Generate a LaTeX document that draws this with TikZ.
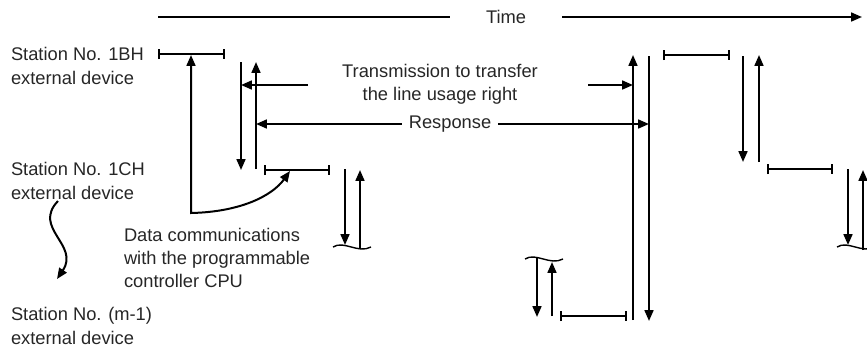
\documentclass[tikz,border=0pt]{standalone}
\usepackage{fontspec}
\setmainfont{Liberation Sans}
\usetikzlibrary{arrows.meta, positioning}

\begin{document}
\begin{tikzpicture}[
    x=0.5pt, y=-0.5pt,
    > = {Triangle[length=5.4pt, width=4.4pt]},
    line width=1pt,
    every node/.style={font=\fontsize{9.15}{11.6}\selectfont, text=black!85, inner sep=0pt},
    lbl/.style={align=left, anchor=west},
    busy/.style={arrows={Bar[width=5pt]-Bar[width=5pt]}},
    wave/.pic={\draw[line width=0.7pt] (-19,0) .. controls (-8,-7) and (6,7) .. (19,0);}
]
\useasboundingbox (0,0) rectangle (867,349);

% --- Time axis ---
\node[inner xsep=17.5pt] (time) at (506,17) {Time};
\coordinate (t0) at (158,17);
\coordinate (t1) at (862,17);
\draw[->] (t0) -- (time) -- (t1);

% --- Stations ---
\node[lbl] (st1) at (10,66) {Station No. 1BH\\external device};
\node[lbl] (st2) at (10,181) {Station No. 1CH\\external device};
\node[lbl] (st3) at (10,326) {Station No. (m-1)\\external device};
\coordinate (w1) at (58,201);
\coordinate (w2) at (57,279);
\draw[->] (w1) .. controls (32,228) and (80,245) .. (w2);

% --- Line usage periods ---
\foreach \n/\xa/\xb/\y in {p1/158/225/54, p2/264/330/170, p3/560/627/316,
                           p4/663/730/55, p5/767/833/169} {
    \coordinate (\n a) at (\xa,\y);
    \coordinate (\n b) at (\xb,\y);
    \draw[busy] (\n a) -- (\n b);
}

% --- Transmissions (d) and responses (u) ---
\foreach \n/\x/\ya/\yb in {d1/241/62/170, u1/256/169/62, d2/345/169/245, u2/360/248/170,
                           d3/537/258/317, u3/552/316/262, u4/633/320/55, d4/649/56/321,
                           d5/743/56/162, u5/759/162/55, d6/848/169/245, u6/863/250/170} {
    \coordinate (\n a) at (\x,\ya);
    \coordinate (\n b) at (\x,\yb);
    \draw[->] (\n a) -- (\n b);
}
\pic at (352,247) {wave};
\pic at (544,259) {wave};
\pic at (856,247) {wave};

% --- Labels ---
\node[align=center] (tr) at (440,84) {Transmission to transfer\\the line usage right};
\coordinate (trl) at (308,85);
\coordinate (trr) at (588,85);
\draw[->] (trl) -- (trl -| d1a);
\draw[->] (trr) -- (trr -| u4a);

\node[inner xsep=3pt] (resp) at (450,124) {Response};
\draw[->] (resp) -- (resp -| u1a);
\draw[->] (resp) -- (resp -| d4a);

\node[lbl] (dc) at (123,258) {Data communications\\with the programmable\\controller CPU};
\coordinate (dc1) at (191,55);
\coordinate (dc2) at (191,213);
\coordinate (dc3) at (290,171);
\draw[<->] (dc1) -- (dc2) .. controls (240,212) and (272,196) .. (dc3);

\end{tikzpicture}
\end{document}
